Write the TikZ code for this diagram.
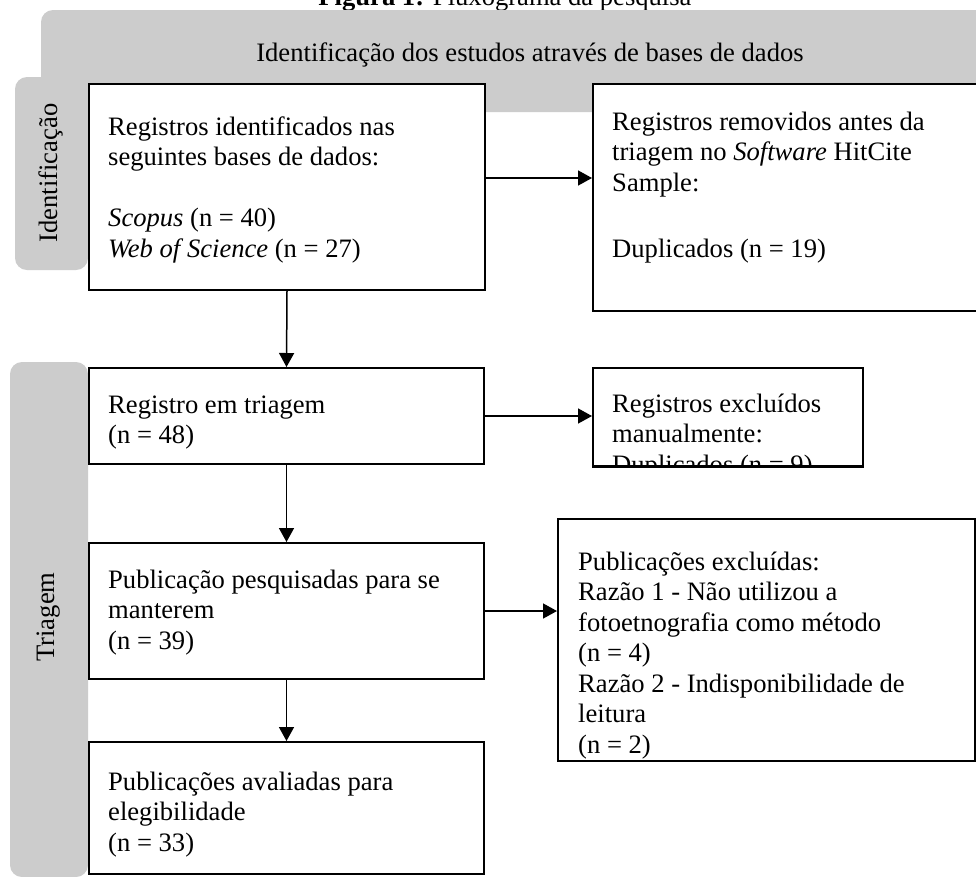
\documentclass[tikz,border=0pt]{standalone}
\usepackage{fontspec}
\setmainfont{Liberation Serif}
\usetikzlibrary{arrows.meta}
\definecolor{tabgray}{RGB}{204,204,204}
\tikzset{
  boxnode/.style={draw=black, line width=2pt, fill=white, inner sep=0pt, anchor=north west},
  txt/.style={inner sep=0pt, anchor=north west, align=left, font=\fontsize{26.6}{30.5}\selectfont},
  tabtxt/.style={inner sep=0pt, rotate=90, font=\fontsize{26.6}{30.5}\selectfont},
  arr/.style={line width=1.5pt, -{Triangle[length=14pt,width=15pt]}}
}
\begin{document}
\begin{tikzpicture}[x=1pt,y=-1pt]
\clip (0,0) rectangle (976,876);
\fill[white] (0,0) rectangle (976,876);
% title (cut at top)
\node[inner sep=0pt, anchor=base, font=\fontsize{26.6}{30.5}\selectfont] (title) at (505,5.5) {\textbf{Figura 1:} Fluxograma da pesquisa};
% gray tabs
\fill[tabgray, rounded corners=12pt] (41,10) rectangle (1010,112);
\fill[tabgray, rounded corners=12pt] (15,77) rectangle (88,270);
\fill[tabgray, rounded corners=12pt] (10,362) rectangle (88,877);
\node[inner sep=0pt, anchor=base, font=\fontsize{26.6}{30.5}\selectfont] (band) at (530,61) {Identificação dos estudos através de bases de dados};
\node[tabtxt] (tabid) at (51,173) {Identificação};
\node[tabtxt] (tabtr) at (49,617) {Triagem};
% boxes
\node[boxnode, minimum width=396pt, minimum height=206pt] (b1) at (88,83) {};
\node[boxnode, minimum width=420pt, minimum height=227pt] (b2) at (592,83) {};
\node[boxnode, minimum width=395pt, minimum height=96pt] (b3) at (88,367) {};
\node[boxnode, minimum width=270pt, minimum height=98pt] (b4) at (592,367) {};
\node[boxnode, minimum width=395pt, minimum height=136pt] (b5) at (88,542) {};
\node[boxnode, minimum width=417pt, minimum height=242pt] (b6) at (557,518) {};
\node[boxnode, minimum width=395pt, minimum height=132pt] (b7) at (88,741) {};
% texts
\node[txt] (t1) at (108,113.65) {\strut Registros identificados nas\\seguintes bases de dados:\\[30.5pt]\textit{Scopus} (n = 40)\\\textit{Web of Science} (n = 27)};
\node[txt] (t2) at (612,108.65) {\strut Registros removidos antes da\\triagem no \textit{Software} HitCite\\Sample:\\[36pt]Duplicados (n = 19)};
\node[txt] (t3) at (108,391.65) {\strut Registro em triagem\\(n = 48)};
\begin{scope}
\clip ([yshift=1pt]b4.north west) rectangle ([yshift=1pt]b4.south east);
\node[txt] (t4) at (612,390.65) {\strut Registros excluídos\\manualmente:\\Duplicados (n = 9)};
\end{scope}
\draw[line width=2pt] (b4.south west) -- (b4.south east);
\node[txt] (t5) at (108,566.65) {\strut Publicação pesquisadas para se\\manterem\\(n = 39)};
\node[txt] (t6) at (578,548.65) {\strut Publicações excluídas:\\Razão 1 - Não utilizou a\\fotoetnografia como método\\(n = 4)\\Razão 2 - Indisponibilidade de\\leitura\\(n = 2)};
\node[txt] (t7) at (108,768.65) {\strut Publicações avaliadas para\\elegibilidade\\(n = 33)};
% arrows
\draw[arr] ([yshift=9pt]b1.east) coordinate (a1) -- (a1 -| b2.west);
\draw[arr] (b1.south) -- (b3.north);
\draw[arr] (b3.east) -- (b3.east -| b4.west);
\draw[arr] (b3.south) -- (b5.north);
\draw[arr] (b5.east) -- (b5.east -| b6.west);
\draw[arr] (b5.south) -- (b7.north);
\end{tikzpicture}
\end{document}
